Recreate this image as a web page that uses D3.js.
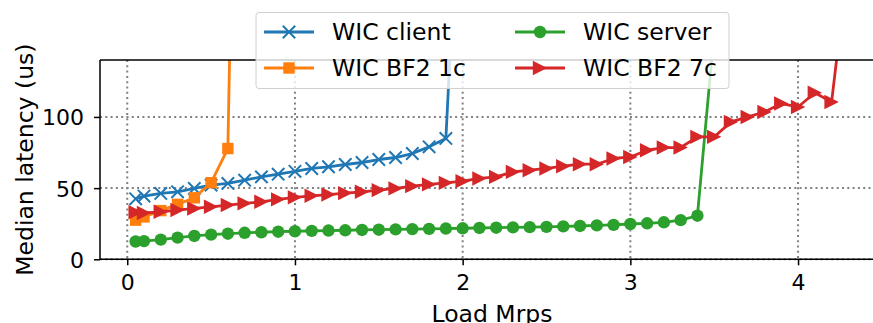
<!DOCTYPE html>
<html>
<head>
<meta charset="utf-8">
<script src="https://cdn.jsdelivr.net/npm/d3@7"></script>
<style>
  body { margin: 0; background: #fff; }
  text { font-family: "DejaVu Sans", sans-serif; }
</style>
</head>
<body>
<script>
// values (x = Load Mrps, y = median latency in us)
var clientX = [0.05, 0.1, 0.2, 0.3, 0.4, 0.5, 0.6, 0.7, 0.8, 0.9, 1.0, 1.1, 1.2, 1.3, 1.4, 1.5, 1.6, 1.7, 1.8, 1.9, 2.0]
var clientY = [42.5, 44.4, 46.3, 47.4, 49.8, 52.1, 53.3, 55.6, 57.9, 59.8, 61.8, 63.8, 65, 66.6, 68, 70.1, 71.5, 74.3, 79, 84.9, 320]

var bf1X = [0.05, 0.1, 0.2, 0.3, 0.4, 0.5, 0.6, 0.7]
var bf1Y = [27.5, 29.8, 34.2, 38.6, 43.2, 53.8, 77.8, 700]

var serverX = [0.05, 0.1, 0.2, 0.3, 0.4, 0.5, 0.6, 0.7, 0.8, 0.9, 1.0, 1.1, 1.2, 1.3, 1.4, 1.5, 1.6, 1.7, 1.8,
  1.9, 2.0, 2.1, 2.2, 2.3, 2.4, 2.5, 2.6, 2.7, 2.8, 2.9, 3.0, 3.1, 3.2, 3.3, 3.4, 3.5]
var serverY = [12.5, 12.8, 13.8, 15.2, 16.4, 17.3, 18, 18.6, 19, 19.4, 19.7, 20, 20.2, 20.4, 20.6, 20.8, 21, 21.2, 21.4,
  21.6, 21.8, 22, 22.2, 22.4, 22.6, 22.8, 23.1, 23.4, 23.8, 24.2, 24.8, 25.3, 26, 27.5, 30.6, 160]

var bf7X = [0.05, 0.1, 0.2, 0.3, 0.4, 0.5, 0.6, 0.7, 0.8, 0.9, 1.0, 1.1, 1.2, 1.3, 1.4, 1.5, 1.6, 1.7, 1.8, 1.9,
  2.0, 2.1, 2.2, 2.3, 2.4, 2.5, 2.6, 2.7, 2.8, 2.9, 3.0, 3.1, 3.2, 3.3, 3.4, 3.5, 3.6, 3.7, 3.8, 3.9, 4.0, 4.1, 4.2, 4.3]
var bf7Y = [33, 32.5, 33.4, 34.6, 35.7, 36.9, 38.1, 39.3, 40.4, 42.1, 43.5, 44.6, 45.5, 46.5, 47.4, 48.6, 49.8, 51.4, 52.6, 53.7,
  54.9, 56.8, 57.9, 61.4, 62.6, 63.8, 65.4, 66.8, 66.8, 70.8, 71.9, 76.6, 78.5, 78.5, 86, 86, 96.5, 100, 103.5, 109.4, 107, 117, 110.5, 210]

var xTicks = [0, 1, 2, 3, 4]
var yTicks = [0, 50, 100]

var width = 873
var height = 323
var margin = { top: 60, left: 100 }
var plotRight = 884
var plotBottom = 259.3

var series = [
  { name: "WIC client", xs: clientX, ys: clientY, color: "#1f77b4", marker: "x" },
  { name: "WIC BF2 1c", xs: bf1X, ys: bf1Y, color: "#ff7f0e", marker: "square" },
  { name: "WIC server", xs: serverX, ys: serverY, color: "#2ca02c", marker: "circle" },
  { name: "WIC BF2 7c", xs: bf7X, ys: bf7Y, color: "#d62728", marker: "triangle" }
]

var escalaX = d3.scaleLinear()
  .domain([-0.1625, 4.5125])
  .range([margin.left, plotRight])

var escalaY = d3.scaleLinear()
  .domain([0, 140])
  .range([plotBottom, margin.top])

var svg = d3.select("body")
  .append("svg")
  .attr("width", width)
  .attr("height", height)

svg.append("defs").append("clipPath")
  .attr("id", "plotClip")
  .append("rect")
  .attr("x", margin.left)
  .attr("y", margin.top)
  .attr("width", plotRight - margin.left)
  .attr("height", plotBottom - margin.top)

// grid
var grid = svg.append("g")
grid.selectAll(".gx")
  .data(xTicks)
  .enter()
  .append("line")
  .attr("x1", d => escalaX(d))
  .attr("x2", d => escalaX(d))
  .attr("y1", margin.top)
  .attr("y2", plotBottom)
  .attr("stroke", "#808080")
  .attr("stroke-width", 2)
  .attr("stroke-dasharray", "2,3.3")
grid.selectAll(".gy")
  .data(yTicks)
  .enter()
  .append("line")
  .attr("x1", margin.left)
  .attr("x2", plotRight)
  .attr("y1", d => escalaY(d))
  .attr("y2", d => escalaY(d))
  .attr("stroke", "#808080")
  .attr("stroke-width", 2)
  .attr("stroke-dasharray", "2,3.3")

function drawMarker(g, type, color) {
  var s = 6.2
  if (type == "x") {
    g.append("path")
      .attr("d", "M" + (-s) + "," + (-s) + "L" + s + "," + s + "M" + (-s) + "," + s + "L" + s + "," + (-s))
      .attr("stroke", color)
      .attr("stroke-width", 2)
      .attr("fill", "none")
  } else if (type == "square") {
    g.append("rect")
      .attr("x", -5.7).attr("y", -5.7)
      .attr("width", 11.4).attr("height", 11.4)
      .attr("fill", color)
  } else if (type == "circle") {
    g.append("circle")
      .attr("r", s)
      .attr("fill", color)
  } else {
    var t = 7.2
    g.append("path")
      .attr("d", "M" + t + ",0L" + (-t) + "," + (-t) + "L" + (-t) + "," + t + "Z")
      .attr("fill", color)
  }
}

var plot = svg.append("g").attr("clip-path", "url(#plotClip)")

series.forEach(function(serie) {
  var puntos = serie.xs.map(function(x, i) { return { x: x, y: serie.ys[i] } })
  plot.append("path")
    .datum(puntos)
    .attr("fill", "none")
    .attr("stroke", serie.color)
    .attr("stroke-width", 2.8)
    .attr("stroke-linejoin", "round")
    .attr("d", d3.line()
      .x(d => escalaX(d.x))
      .y(d => escalaY(d.y)))
  plot.append("g")
    .selectAll("g")
    .data(puntos)
    .enter()
    .append("g")
    .attr("transform", d => "translate(" + escalaX(d.x) + "," + escalaY(d.y) + ")")
    .each(function() { drawMarker(d3.select(this), serie.marker, serie.color) })
})

// axes
var ejeX = d3.axisBottom(escalaX).tickValues(xTicks).tickSize(6).tickPadding(9).tickFormat(d3.format("d"))
var gx = svg.append("g")
  .attr("transform", "translate(0," + plotBottom + ")")
  .call(ejeX)
var ejeY = d3.axisLeft(escalaY).tickValues(yTicks).tickSize(6).tickPadding(10)
var gy = svg.append("g")
  .attr("transform", "translate(" + margin.left + ",0)")
  .call(ejeY)
;[gx, gy].forEach(function(g) {
  g.select(".domain").remove()
  g.selectAll("line").attr("stroke", "#000").attr("stroke-width", 1.5)
  g.selectAll("text").attr("font-size", 22).attr("fill", "#000").attr("font-family", "DejaVu Sans")
})
gy.selectAll("text").attr("dy", "0.36em")

// spines
svg.append("line").attr("x1", margin.left).attr("x2", margin.left).attr("y1", margin.top).attr("y2", plotBottom)
  .attr("stroke", "#000").attr("stroke-width", 1.5)
svg.append("line").attr("x1", margin.left).attr("x2", plotRight).attr("y1", plotBottom).attr("y2", plotBottom)
  .attr("stroke", "#000").attr("stroke-width", 1.5)
svg.append("line").attr("x1", margin.left).attr("x2", plotRight).attr("y1", margin.top).attr("y2", margin.top)
  .attr("stroke", "#000").attr("stroke-width", 1.5)

// labels
svg.append("text")
  .attr("x", (margin.left + plotRight) / 2)
  .attr("y", 322)
  .attr("text-anchor", "middle")
  .attr("font-size", 23.5)
  .text("Load Mrps")
svg.append("text")
  .attr("transform", "translate(33," + ((margin.top + plotBottom) / 2) + ") rotate(-90)")
  .attr("text-anchor", "middle")
  .attr("font-size", 23.5)
  .text("Median latency (us)")

// legend
var legend = svg.append("g")
legend.append("rect")
  .attr("x", 256).attr("y", 12.5)
  .attr("width", 473).attr("height", 76)
  .attr("rx", 3)
  .attr("fill", "#fff").attr("fill-opacity", 0.8)
  .attr("stroke", "#d0d0d0").attr("stroke-width", 1)
var legendPos = [[264, 32], [264, 68], [515, 32], [515, 68]]
series.forEach(function(serie, i) {
  var p = legendPos[i]
  var item = legend.append("g").attr("transform", "translate(" + p[0] + "," + p[1] + ")")
  item.append("line").attr("x1", 0).attr("x2", 50).attr("y1", 0).attr("y2", 0)
    .attr("stroke", serie.color).attr("stroke-width", 2.8)
  drawMarker(item.append("g").attr("transform", "translate(25,0)"), serie.marker, serie.color)
  item.append("text")
    .attr("x", 68)
    .attr("y", 0)
    .attr("dy", "0.36em")
    .attr("font-size", 23.5)
    .text(serie.name)
})
</script>
</body>
</html>
